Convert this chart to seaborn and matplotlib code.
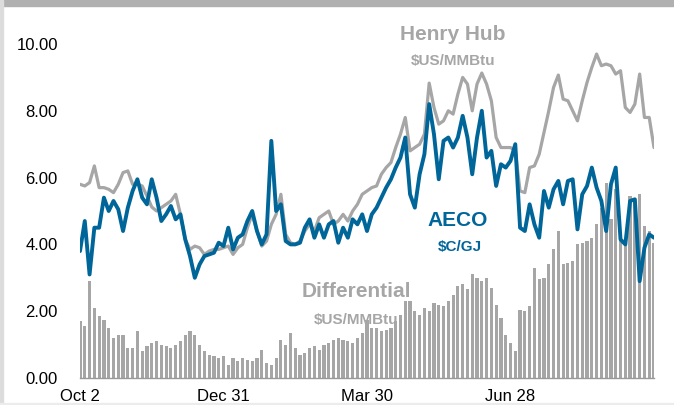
import pandas as pd
import matplotlib
matplotlib.use("Agg")
import matplotlib.pyplot as plt
import seaborn as sns
from matplotlib.patches import Rectangle

# days since Oct 2, one reading every 3 days
days = list(range(0, 361, 3))

# Henry Hub, $US/MMBtu
henry_hub = [
    5.8, 5.75, 5.85, 6.35, 5.7, 5.7, 5.65, 5.55, 5.8, 6.15,
    6.2, 5.8, 5.8, 5.75, 5.45, 5.12, 5.0, 5.1, 5.2, 5.3,
    5.5, 4.9, 4.15, 3.85, 3.95, 3.9, 3.7, 3.8, 3.85, 3.85,
    3.9, 3.95, 3.7, 3.9, 4.0, 4.5, 4.9, 4.4, 3.95, 4.1,
    4.6, 4.9, 5.5, 4.3, 4.05, 4.0, 4.1, 4.4, 4.6, 4.4,
    4.8, 4.9, 5.0, 4.6, 4.7, 4.9, 4.7, 5.0, 5.2, 5.5,
    5.6, 5.7, 5.75, 6.1, 6.3, 6.45, 6.9, 7.3, 7.8, 6.8,
    6.9, 7.0, 7.3, 8.83, 8.1, 7.6, 7.7, 8.0, 7.9, 8.5,
    9.0, 8.8, 8.0, 8.8, 9.13, 8.8, 8.3, 7.2, 6.9, 6.9,
    6.9, 6.8, 5.6, 5.55, 6.3, 6.35, 6.7, 7.35, 8.0, 8.7,
    9.07, 8.35, 8.3, 8.0, 7.7, 8.3, 8.85, 9.3, 9.7, 9.35,
    9.4, 9.35, 9.1, 9.2, 8.1, 7.95, 8.2, 9.1, 7.8, 7.8,
    6.9,
]

# AECO, $C/GJ
aeco = [
    3.8, 4.7, 3.1, 4.5, 4.5, 5.4, 5.0, 5.3, 5.05, 4.4,
    5.1, 5.6, 5.95, 5.4, 5.2, 5.95, 5.4, 4.7, 4.9, 5.15,
    4.75, 4.9, 4.15, 3.65, 3.0, 3.4, 3.65, 3.7, 3.75, 4.05,
    3.95, 4.5, 3.85, 4.2, 4.3, 4.7, 5.0, 4.4, 4.0, 4.3,
    7.1, 5.0, 5.2, 4.1, 4.0, 4.0, 4.05, 4.5, 4.75, 4.2,
    4.6, 4.2, 4.6, 4.7, 4.05, 4.5, 4.2, 4.75, 4.6, 4.9,
    4.4, 4.9, 5.1, 5.4, 5.7, 5.95, 6.3, 6.6, 7.2, 5.5,
    5.1, 6.1, 6.7, 8.2, 7.3, 5.95, 7.1, 7.2, 6.9, 7.2,
    7.85, 7.2, 6.1, 7.2, 8.0, 6.6, 6.8, 5.75, 6.4, 6.3,
    6.5, 7.0, 4.5, 4.4, 5.2, 4.6, 4.2, 5.6, 5.1, 5.65,
    5.9, 5.2, 5.9, 5.95, 4.45, 5.5, 5.75, 6.3, 5.7, 5.3,
    4.4, 5.8, 6.3, 4.15, 4.0, 5.3, 5.35, 2.9, 3.9, 4.3,
    4.2,
]

# differential, $US/MMBtu
differential = [
    1.7, 1.55, 2.9, 2.1, 1.85, 1.75, 1.5, 1.2, 1.3, 1.3,
    0.9, 0.9, 1.4, 0.8, 0.95, 1.05, 1.1, 1.0, 0.95, 0.9,
    1.0, 1.1, 1.3, 1.4, 1.3, 1.0, 0.8, 0.7, 0.65, 0.6,
    0.65, 0.4, 0.6, 0.5, 0.6, 0.55, 0.5, 0.6, 0.85, 0.45,
    0.4, 0.6, 1.15, 1.0, 1.35, 0.9, 0.7, 0.75, 0.9, 0.95,
    0.85, 1.0, 1.05, 1.15, 1.2, 1.15, 1.1, 1.05, 1.2, 1.35,
    1.75, 1.5, 1.5, 1.4, 1.45, 1.5, 1.7, 1.9, 2.3, 2.3,
    2.0, 1.9, 2.1, 2.0, 2.25, 2.2, 2.15, 2.3, 2.5, 2.75,
    2.8, 2.65, 3.1, 3.0, 2.9, 3.0, 2.7, 2.2, 1.8, 1.3,
    1.05, 0.8, 2.05, 2.0, 2.15, 3.3, 2.95, 3.0, 3.4, 3.85,
    4.4, 3.4, 3.45, 3.5, 4.0, 4.05, 4.1, 4.2, 4.6, 5.1,
    5.85, 4.75, 5.65, 4.15, 4.15, 5.45, 5.35, 5.5, 4.55, 4.4,
    4.05,
]

tick_days = [0, 90, 180, 270, 360]
tick_labels = ["Oct 2", "Dec 31", "Mar 30", "Jun 28", ""]
y_ticks = [0, 2, 4, 6, 8, 10]

GRAY = "#a6a6a6"
BLUE = "#00669a"

df = pd.DataFrame({
    "day": days,
    "henry_hub": henry_hub,
    "aeco": aeco,
    "differential": differential,
})

sns.set_style("white")
plt.rcParams["font.family"] = ["Liberation Sans", "DejaVu Sans"]

fig = plt.figure(figsize=(6.74, 4.05), dpi=100)
ax = fig.add_axes([80 / 674, 1 - 378 / 405, 574 / 674, 334 / 405])

# differential bars behind the two price lines
ax.bar(df["day"], df["differential"], width=2.0, color=GRAY, linewidth=0, zorder=1)

sns.lineplot(data=df, x="day", y="henry_hub", color=GRAY, linewidth=2.3, ax=ax,
             solid_joinstyle="round", zorder=2)
sns.lineplot(data=df, x="day", y="aeco", color=BLUE, linewidth=2.8, ax=ax,
             solid_joinstyle="round", zorder=3)

ax.set_xlim(0, 360)
ax.set_ylim(0, 10)
ax.set_xticks(tick_days)
ax.set_xticklabels(tick_labels)
ax.set_yticks(y_ticks)
ax.set_yticklabels([f"{v:.2f}" for v in y_ticks])
ax.set_xlabel("")
ax.set_ylabel("")

for side in ["top", "right", "left"]:
    ax.spines[side].set_visible(False)
ax.spines["bottom"].set_color("#999999")
ax.spines["bottom"].set_linewidth(1)

ax.tick_params(axis="x", length=4, width=1, color="#999999", direction="out",
               pad=4, labelsize=12, labelcolor="black")
ax.tick_params(axis="y", length=0, pad=16, labelsize=12, labelcolor="black")

# series labels
ax.text(234, 10.27, "Henry Hub", ha="center", va="center", fontsize=15,
        fontweight="bold", color=GRAY)
ax.text(234, 9.5, "$US/MMBtu", ha="center", va="center", fontsize=11,
        fontweight="bold", color=GRAY)
ax.text(237, 4.72, "AECO", ha="center", va="center", fontsize=15,
        fontweight="bold", color=BLUE)
ax.text(238, 3.92, "$C/GJ", ha="center", va="center", fontsize=11,
        fontweight="bold", color=BLUE)
ax.text(173.5, 2.58, "Differential", ha="center", va="center", fontsize=15,
        fontweight="bold", color=GRAY)
ax.text(173.5, 1.75, "$US/MMBtu", ha="center", va="center", fontsize=11,
        fontweight="bold", color=GRAY)

# frame edges of the slide
fig.patches.append(Rectangle((0, 1 - 6 / 405), 1, 6 / 405, transform=fig.transFigure,
                             color="#b0b0b0", zorder=0))
fig.patches.append(Rectangle((0, 0), 3 / 674, 1, transform=fig.transFigure,
                             color="#dcdcdc", zorder=0))
fig.patches.append(Rectangle((0, 0), 1, 2 / 405, transform=fig.transFigure,
                             color="#ececec", zorder=0))

fig.savefig("out.png", dpi=100)
plt.close(fig)
